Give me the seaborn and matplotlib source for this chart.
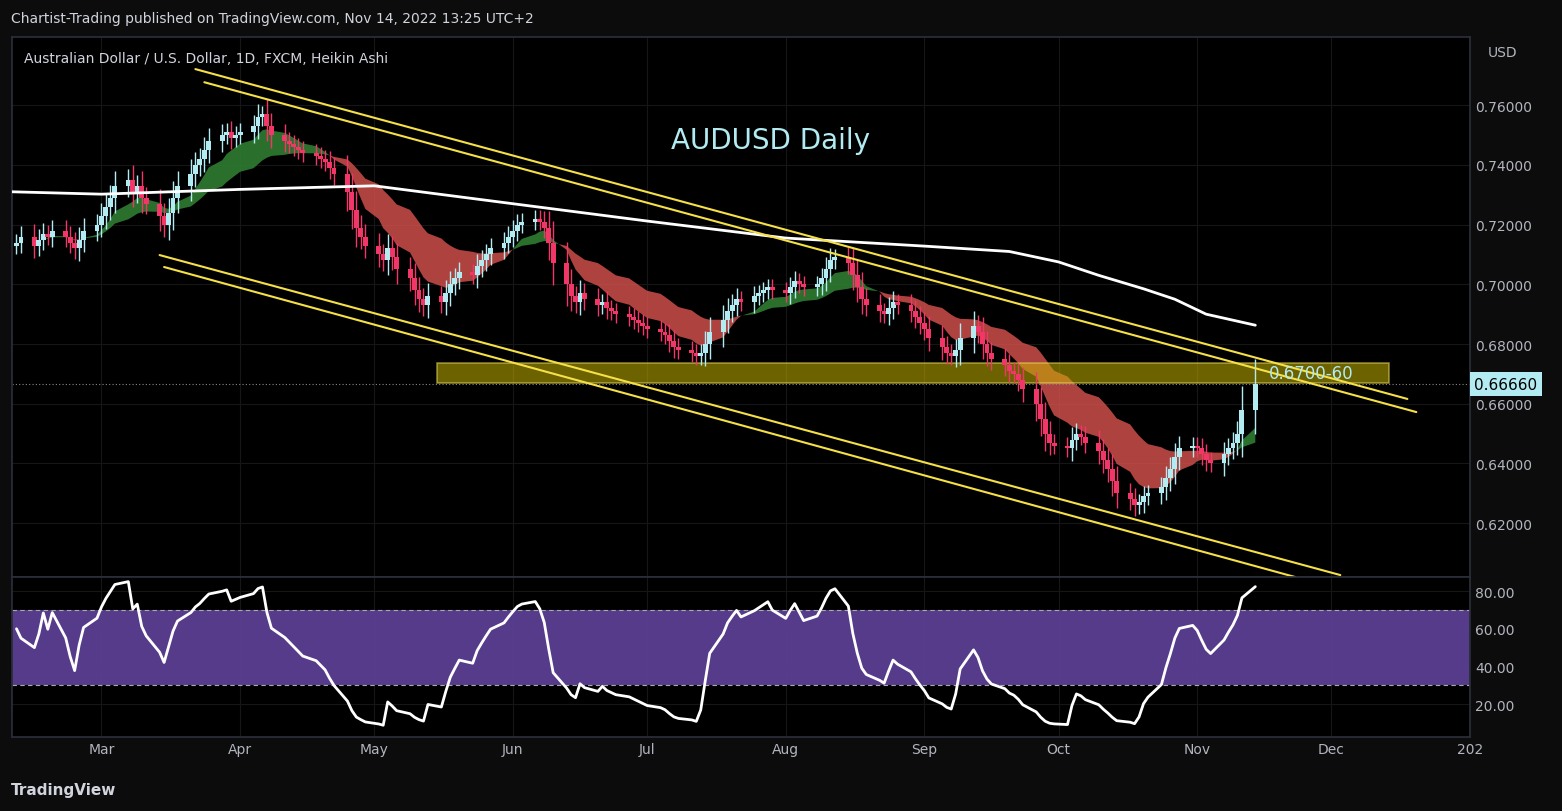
import numpy as np
import pandas as pd
import matplotlib
matplotlib.use("Agg")
import matplotlib.pyplot as plt
import matplotlib.dates as mdates
import seaborn as sns

# ---------------- data ----------------
feb = [0.714, 0.716, 0.713, 0.715, 0.717, 0.716, 0.718, 0.716, 0.714, 0.712, 0.715, 0.718, 0.720]
mar = [0.723, 0.726, 0.729, 0.733, 0.735, 0.731, 0.733, 0.729, 0.727, 0.723, 0.720, 0.724, 0.729,
       0.733, 0.737, 0.740, 0.742, 0.745, 0.748, 0.750, 0.751, 0.749, 0.750]
apr = [0.751, 0.753, 0.756, 0.757, 0.753, 0.750, 0.748, 0.747, 0.746, 0.745, 0.744, 0.743, 0.742,
       0.741, 0.739, 0.737, 0.731, 0.725, 0.719, 0.716, 0.713]
may = [0.710, 0.708, 0.712, 0.709, 0.705, 0.702, 0.698, 0.695, 0.693, 0.696, 0.694, 0.697, 0.700,
       0.702, 0.704, 0.703, 0.706, 0.708, 0.710, 0.712, 0.714, 0.716]
jun = [0.718, 0.720, 0.721, 0.722, 0.721, 0.719, 0.714, 0.707, 0.700, 0.696, 0.694, 0.697, 0.695,
       0.693, 0.694, 0.692, 0.691, 0.690, 0.689, 0.688, 0.687, 0.686]
jul = [0.685, 0.684, 0.683, 0.681, 0.679, 0.678, 0.677, 0.676, 0.677, 0.680, 0.684, 0.688, 0.691,
       0.693, 0.695, 0.694, 0.696, 0.697, 0.698, 0.699, 0.698]
aug = [0.697, 0.699, 0.701, 0.700, 0.699, 0.700, 0.702, 0.705, 0.708, 0.709, 0.707, 0.703, 0.699,
       0.695, 0.693, 0.691, 0.690, 0.692, 0.694, 0.693, 0.691, 0.689, 0.687]
sep = [0.685, 0.682, 0.679, 0.677, 0.676, 0.678, 0.682, 0.686, 0.684, 0.680, 0.677, 0.675, 0.673,
       0.671, 0.670, 0.668, 0.665, 0.660, 0.655, 0.650, 0.647, 0.646]
octo = [0.645, 0.648, 0.650, 0.649, 0.647, 0.644, 0.641, 0.638, 0.634, 0.630, 0.628, 0.626, 0.627,
        0.629, 0.630, 0.632, 0.635, 0.638, 0.642, 0.645, 0.646]
nov = [0.645, 0.643, 0.641, 0.640, 0.643, 0.645, 0.647, 0.650, 0.658, 0.6666]
closes = feb + mar + apr + may + jun + jul + aug + sep + octo + nov

# long moving average (white line), sampled
ma_dates = ["2022-02-09", "2022-03-01", "2022-04-01", "2022-05-01", "2022-06-01", "2022-07-01",
            "2022-08-01", "2022-09-01", "2022-09-20", "2022-10-01", "2022-10-10", "2022-10-20",
            "2022-10-27", "2022-11-03", "2022-11-14"]
ma_vals = [0.7310, 0.7302, 0.7318, 0.7330, 0.7270, 0.7212, 0.7155, 0.7128, 0.7110, 0.7075,
           0.7030, 0.6985, 0.6950, 0.6900, 0.6863]

# channel trend lines: (start date, start price, end date, end price)
channels = [("2022-03-22", 0.7721, "2022-12-18", 0.6616),
            ("2022-03-24", 0.7677, "2022-12-20", 0.6572),
            ("2022-03-14", 0.7098, "2022-12-03", 0.6026),
            ("2022-03-15", 0.7058, "2022-11-23", 0.6019)]

zone_start, zone_end = "2022-05-15", "2022-12-14"
zone_low, zone_high = 0.6668, 0.6736
last_price = 0.6666

price_ticks = [0.62, 0.64, 0.66, 0.68, 0.70, 0.72, 0.74, 0.76]
rsi_ticks = [20, 40, 60, 80]
month_ticks = ["2022-03-01", "2022-04-01", "2022-05-01", "2022-06-01", "2022-07-01", "2022-08-01",
               "2022-09-01", "2022-10-01", "2022-11-01", "2022-12-01", "2023-01-01"]
month_labels = ["Mar", "Apr", "May", "Jun", "Jul", "Aug", "Sep", "Oct", "Nov", "Dec", "202"]

# ---------------- derived ----------------
dates = pd.bdate_range(end="2022-11-14", periods=len(closes))
df = pd.DataFrame({"date": dates, "close": closes})
df["open"] = df["close"].shift(1).fillna(df["close"].iloc[0] - 0.001)
body = (df["close"] - df["open"]).abs()
df["high"] = df[["open", "close"]].max(axis=1) + 0.7 * body + 0.0022
df["low"] = df[["open", "close"]].min(axis=1) - 0.7 * body - 0.0022
df["fast"] = df["close"].ewm(span=8).mean()
df["slow"] = df["close"].ewm(span=26).mean()

delta = df["close"].diff().fillna(0)
up = delta.clip(lower=0).ewm(alpha=1 / 10).mean()
dn = (-delta.clip(upper=0)).ewm(alpha=1 / 10).mean()
df["rsi"] = 100 - 100 / (1 + up / dn.replace(0, 1e-9))
df.loc[:2, "rsi"] = [60, 55, 50]

BG = "#000000"
TXT = "#b2b5be"
UPC = "#b2ebf2"
DNC = "#f23668"

sns.set_theme(style="dark", rc={"axes.facecolor": BG, "figure.facecolor": "#0c0c0c"})
fig = plt.figure(figsize=(15.62, 8.12), dpi=100)
ax = fig.add_axes([0.0077, 0.288, 0.9334, 0.665])
ax2 = fig.add_axes([0.0077, 0.091, 0.9334, 0.197], sharex=ax)

x0, x1 = pd.Timestamp("2022-02-09"), pd.Timestamp("2023-01-01")

# cloud
ax.fill_between(df["date"], df["fast"], df["slow"], where=df["fast"] >= df["slow"],
                color="#2f7d32", alpha=0.9, interpolate=True, lw=0)
ax.fill_between(df["date"], df["fast"], df["slow"], where=df["fast"] < df["slow"],
                color="#d9534f", alpha=0.8, interpolate=True, lw=0)

# zone
zs, ze = mdates.date2num(pd.Timestamp(zone_start)), mdates.date2num(pd.Timestamp(zone_end))
ax.add_patch(plt.Rectangle((zs, zone_low), ze - zs, zone_high - zone_low,
                           facecolor="#c8b400", alpha=0.55, edgecolor="#e6d85c", lw=1.2, zorder=2))
ax.text(mdates.date2num(pd.Timestamp("2022-11-17")), (zone_low + zone_high) / 2, "0.6700-60",
        color=UPC, fontsize=12, va="center", zorder=6)

# candles
colors = np.where(df["close"] >= df["open"], UPC, DNC)
ax.vlines(df["date"], df["low"], df["high"], colors=colors, lw=1, zorder=3)
ax.bar(df["date"], (df["close"] - df["open"]).abs().clip(lower=0.0006),
       bottom=df[["open", "close"]].min(axis=1), width=1.1, color=colors,
       edgecolor="none", linewidth=0, zorder=4)

# long MA
ma = pd.DataFrame({"date": pd.to_datetime(ma_dates), "v": ma_vals})
sns.lineplot(data=ma, x="date", y="v", ax=ax, color="white", lw=2, zorder=5)

for d0, p0, d1, p1 in channels:
    ax.plot([pd.Timestamp(d0), pd.Timestamp(d1)], [p0, p1], color="#f5e047", lw=1.5, zorder=5)

ax.axhline(last_price, color="#888888", lw=0.8, ls=(0, (1, 2)), zorder=1)
ax.text(1.003, last_price, "0.66660", transform=ax.get_yaxis_transform(), va="center", ha="left",
        fontsize=11, color="#000000", bbox=dict(boxstyle="square,pad=0.3", fc=UPC, ec="none"))
ax.text(0.52, 0.795, "AUDUSD Daily", transform=ax.transAxes, color="#b2ebf2", fontsize=20, ha="center")
ax.text(0.008, 0.975, "Australian Dollar / U.S. Dollar, 1D, FXCM, Heikin Ashi",
        transform=ax.transAxes, color="#d1d4dc", fontsize=10, va="top")

ax.set_ylim(0.6019, 0.7828)
ax.set_xlim(x0, x1)
ax.yaxis.tick_right()
ax.set_yticks(price_ticks)
ax.set_yticklabels([f"{t:.5f}" for t in price_ticks])
ax.set_ylabel("")
ax.set_xlabel("")
ax.text(1.012, 0.985, "USD", transform=ax.transAxes, color=TXT, fontsize=10, va="top")

# RSI
ax2.axhspan(30, 70, color="#5b3f94", alpha=0.95, lw=0)
ax2.axhline(70, color="#aaaaaa", lw=0.8, ls=(0, (4, 3)))
ax2.axhline(30, color="#aaaaaa", lw=0.8, ls=(0, (4, 3)))
sns.lineplot(data=df, x="date", y="rsi", ax=ax2, color="white", lw=2)
ax2.set_ylim(2.5, 87.4)
ax2.yaxis.tick_right()
ax2.set_yticks(rsi_ticks)
ax2.set_yticklabels([f"{t:.2f}" for t in rsi_ticks])
ax2.set_ylabel("")
ax2.set_xlabel("")
ax2.set_xticks(pd.to_datetime(month_ticks))
ax2.set_xticklabels(month_labels)

for a in (ax, ax2):
    a.tick_params(colors=TXT, labelsize=10, length=0)
    a.grid(True, color="#161616", lw=0.8)
    for s in a.spines.values():
        s.set_color("#2a2e39")
plt.setp(ax.get_xticklabels(), visible=False)

fig.text(0.007, 0.977, "Chartist-Trading published on TradingView.com, Nov 14, 2022 13:25 UTC+2",
         color="#d1d4dc", fontsize=10, va="center")
fig.text(0.007, 0.026, "TradingView", color="#d1d4dc", fontsize=11, fontweight="bold", va="center")

fig.savefig("out.png", dpi=100, facecolor=fig.get_facecolor())
